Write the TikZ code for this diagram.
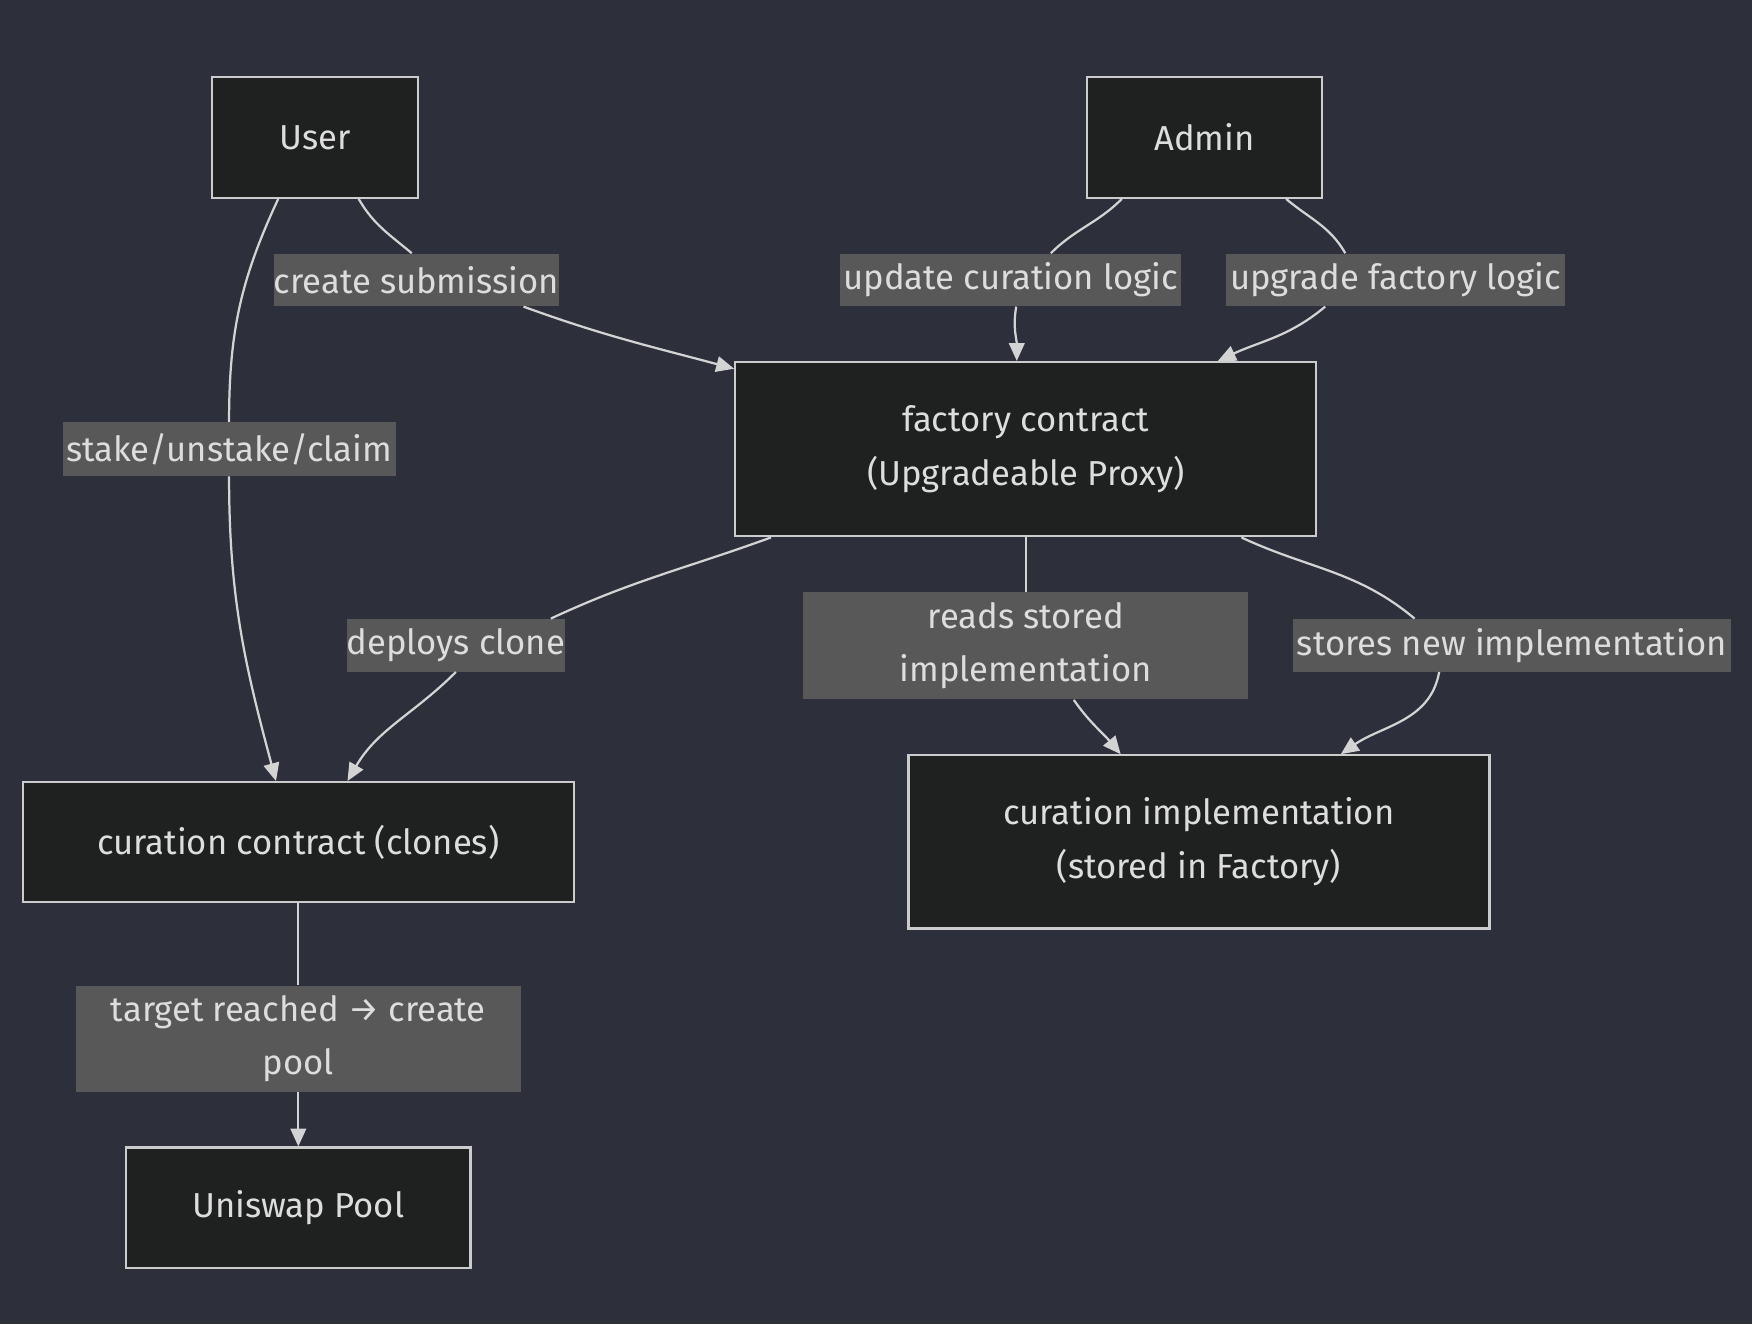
\documentclass[tikz,border=0pt]{standalone}
\usepackage{fontspec}
\setmainfont{Fira Sans}
\usetikzlibrary{calc,arrows.meta}
\definecolor{bgcol}{HTML}{2D303B}
\definecolor{boxfill}{HTML}{1F2020}
\definecolor{boxline}{HTML}{CCCCCC}
\definecolor{lblfill}{HTML}{585858}
\definecolor{txtcol}{HTML}{DDDDDD}
\definecolor{edgecol}{HTML}{D3D3D3}
\begin{document}
\begin{tikzpicture}[
  x=0.5pt, y=0.5pt,
  font=\fontsize{15.5}{24}\selectfont,
  box/.style={draw=boxline,fill=boxfill,line width=1pt,text=txtcol,align=center,inner sep=0pt},
  lbl/.style={fill=lblfill,text=txtcol,align=center,inner sep=0pt},
  line/.style={draw=edgecol,line width=1pt},
  arr/.style={line,-{Triangle[length=8pt,width=7pt]}}
]
\fill[bgcol] (0,0) rectangle (1568,-1185);
\useasboundingbox (0,0) rectangle (1568,-1185);

% boxes
\node[box,minimum width=92pt,minimum height=54pt] (user) at (282,-123) {User};
\node[box,minimum width=105pt,minimum height=54pt] (admin) at (1078,-123) {Admin};
\node[box,minimum width=260pt,minimum height=78pt] (factory) at (918,-402) {factory contract\\(Upgradeable Proxy)};
\node[box,minimum width=246.5pt,minimum height=53.5pt] (curation) at (267,-753.5) {curation contract (clones)};
\node[box,minimum width=260pt,minimum height=77.5pt] (impl) at (1073,-753.5) {curation implementation\\(stored in Factory)};
\node[box,minimum width=154pt,minimum height=54pt] (pool) at (267,-1081) {Uniswap Pool};

% edge labels
\node[lbl,minimum width=127.5pt,minimum height=23.5pt] (lcreate) at (372.5,-250.5) {create submission};
\node[lbl,minimum width=152.5pt,minimum height=23.5pt] (lupdate) at (904.5,-250.5) {update curation logic};
\node[lbl,minimum width=152pt,minimum height=23.5pt] (lupgrade) at (1249,-250.5) {upgrade factory logic};
\node[lbl,minimum width=149pt,minimum height=24pt] (lstake) at (205,-402) {stake/unstake/claim};
\node[lbl,minimum width=97pt,minimum height=23.5pt] (ldeploy) at (408,-577.5) {deploys clone};
\node[lbl,minimum width=199pt,minimum height=48pt] (lreads) at (918,-578) {reads stored\\implementation};
\node[lbl,minimum width=196pt,minimum height=23.5pt] (lstores) at (1353,-577.5) {stores new implementation};
\node[lbl,minimum width=199pt,minimum height=47.5pt] (ltarget) at (267,-929.5) {target reached → create\\pool};

% connectors
\draw[line] ($(user.south)+(-33,0)$) to[out=-115,in=90] (lstake.north);
\draw[arr] (lstake.south) to[out=-90,in=105] ($(curation.north)+(-20,0)$);
\draw[line] ($(user.south)+(39,0)$) to[out=-60,in=140] ($(lcreate.north)+(-4,0)$);
\draw[arr] ($(lcreate.south)+(96,0)$) to[out=-20,in=165] ($(factory.north west)+(0,-7)$);
\draw[line] ($(admin.south)+(-74,0)$) to[out=-135,in=45] ($(lupdate.north)+(36,0)$);
\draw[arr] ($(lupdate.south)+(5,0)$) to[out=-100,in=90] ($(factory.north)+(-8,0)$);
\draw[line] ($(admin.south)+(73,0)$) to[out=-40,in=120] ($(lupgrade.north)+(-45,0)$);
\draw[arr] ($(lupgrade.south)+(-63,0)$) to[out=-140,in=25] ($(factory.north)+(172,0)$);
\draw[line] ($(factory.south)+(-228,0)$) to[out=-160,in=25] ($(ldeploy.north)+(85,0)$);
\draw[arr] (ldeploy.south) to[out=-135,in=60] ($(curation.north)+(44,0)$);
\draw[line] (factory.south) to[out=-90,in=90] (lreads.north);
\draw[arr] ($(lreads.south)+(43,0)$) to[out=-55,in=130] ($(impl.north)+(-70,0)$);
\draw[line] ($(factory.south)+(193,0)$) to[out=-25,in=140] ($(lstores.north)+(-87,0)$);
\draw[arr] ($(lstores.south)+(-65,0)$) to[out=-100,in=35] ($(impl.north)+(127,0)$);
\draw[line] (curation.south) -- (ltarget.north);
\draw[arr] (ltarget.south) -- (pool.north);
\end{tikzpicture}
\end{document}
